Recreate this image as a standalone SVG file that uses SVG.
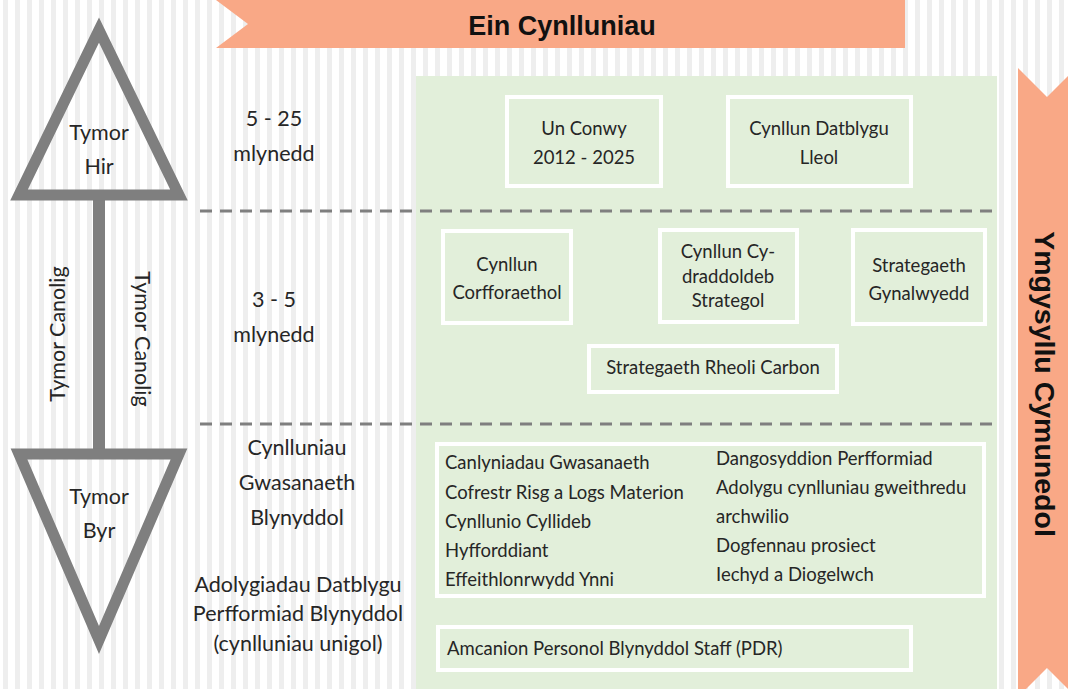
<svg xmlns="http://www.w3.org/2000/svg" width="1068" height="689" viewBox="0 0 1068 689">
<defs>
<pattern id="stripes" x="0" y="0" width="12" height="20" patternUnits="userSpaceOnUse">
<rect x="0" y="0" width="12" height="20" fill="#ffffff"/>
<rect x="3" y="0" width="5" height="20" fill="#eeeeee"/>
</pattern>
</defs>
<style>
.t{font-family:Lato,"Liberation Sans",sans-serif;fill:#262626}
.lbl{font-size:21.5px;text-anchor:middle}
.bx{font-size:18.5px;text-anchor:middle}
.li{font-size:18.5px}
.box{fill:none;stroke:#ffffff;stroke-width:4}
.tri{fill:none;stroke:#7f7f7f;stroke-width:11;stroke-linejoin:miter}
.dash{stroke:#7f7f7f;stroke-width:3;stroke-dasharray:12 8;fill:none}
.ban{fill:#f9a886}
.head{font-family:"Liberation Sans",Arial,sans-serif;font-weight:bold;fill:#111111}
</style>
<rect x="0" y="0" width="1068" height="689" fill="url(#stripes)"/>
<g id="panel"><rect x="416" y="76" width="581" height="613" fill="#e2efda"/></g>
<g id="banner-top">
<polygon class="ban" points="216,0 905,0 905,48 216,48 248,24"/>
<text class="head" x="562" y="35" font-size="27" text-anchor="middle">Ein Cynlluniau</text>
</g>
<g id="banner-right">
<polygon class="ban" points="1018,68 1047,97 1076,68 1076,697 1047,668 1018,697"/>
<text class="head" font-size="28.5" text-anchor="middle" transform="translate(1035,384) rotate(90)">Ymgysyllu Cymunedol</text>
</g>
<g id="connectors">
<line class="dash" x1="200" y1="211" x2="997" y2="211"/>
<line class="dash" x1="200" y1="424" x2="997" y2="424"/>
<rect x="93" y="195" width="12" height="260" fill="#7f7f7f"/>
</g>
<g id="tymor-hir">
<polygon class="tri" points="99,30 19,195 179,195"/>
<text class="t lbl" x="99" y="140">Tymor</text>
<text class="t lbl" x="99" y="174">Hir</text>
</g>
<g id="tymor-byr">
<polygon class="tri" points="19,454 179,454 99,640"/>
<text class="t lbl" x="99" y="504">Tymor</text>
<text class="t lbl" x="99" y="538">Byr</text>
</g>
<g id="tymor-canolig">
<text class="t lbl" font-size="21" transform="translate(65,334) rotate(-90)">Tymor Canolig</text>
<text class="t lbl" font-size="21" transform="translate(135,339) rotate(90)">Tymor Canolig</text>
</g>
<g id="labels">
<text class="t lbl" x="274" y="126">5 - 25</text>
<text class="t lbl" x="274" y="161">mlynedd</text>
<text class="t lbl" x="274" y="307">3 - 5</text>
<text class="t lbl" x="274" y="342">mlynedd</text>
<text class="t lbl" x="297" y="455">Cynlluniau</text>
<text class="t lbl" x="297" y="490">Gwasanaeth</text>
<text class="t lbl" x="297" y="525">Blynyddol</text>
<text class="t lbl" x="298" y="592">Adolygiadau Datblygu</text>
<text class="t lbl" x="298" y="621">Perfformiad Blynyddol</text>
<text class="t lbl" x="298" y="651">(cynlluniau unigol)</text>
</g>
<g id="un-conwy">
<rect class="box" x="507" y="97" width="154" height="89"/>
<text class="t bx" x="584" y="135">Un Conwy</text>
<text class="t bx" x="584" y="164">2012 - 2025</text>
</g>
<g id="cynllun-datblygu">
<rect class="box" x="728" y="97" width="183" height="89"/>
<text class="t bx" x="819" y="135">Cynllun Datblygu</text>
<text class="t bx" x="819" y="164">Lleol</text>
</g>
<g id="corfforaethol">
<rect class="box" x="443" y="231" width="128" height="92"/>
<text class="t bx" x="507" y="271">Cynllun</text>
<text class="t bx" x="507" y="299">Corfforaethol</text>
</g>
<g id="cydraddoldeb">
<rect class="box" x="660" y="230" width="137" height="92"/>
<text class="t bx" x="728" y="258">Cynllun Cy-</text>
<text class="t bx" x="728" y="283">draddoldeb</text>
<text class="t bx" x="728" y="307">Strategol</text>
</g>
<g id="gynalwyedd">
<rect class="box" x="853" y="230" width="132" height="94"/>
<text class="t bx" x="919" y="272">Strategaeth</text>
<text class="t bx" x="919" y="300">Gynalwyedd</text>
</g>
<g id="rheoli-carbon">
<rect class="box" x="589" y="346" width="248" height="46"/>
<text class="t bx" x="713" y="374">Strategaeth Rheoli Carbon</text>
</g>
<g id="gwasanaeth-list">
<rect class="box" x="437" y="444" width="547" height="152"/>
<text class="t li" x="445" y="469">Canlyniadau Gwasanaeth</text>
<text class="t li" x="445" y="499">Cofrestr Risg a Logs Materion</text>
<text class="t li" x="445" y="528">Cynllunio Cyllideb</text>
<text class="t li" x="445" y="557">Hyfforddiant</text>
<text class="t li" x="445" y="586">Effeithlonrwydd Ynni</text>
<text class="t li" x="716" y="465">Dangosyddion Perfformiad</text>
<text class="t li" x="716" y="494">Adolygu cynlluniau gweithredu</text>
<text class="t li" x="716" y="523">archwilio</text>
<text class="t li" x="716" y="552">Dogfennau prosiect</text>
<text class="t li" x="716" y="581">Iechyd a Diogelwch</text>
</g>
<g id="pdr">
<rect class="box" x="438" y="627" width="473" height="43"/>
<text class="t li" x="447" y="655">Amcanion Personol Blynyddol Staff (PDR)</text>
</g>
</svg>
